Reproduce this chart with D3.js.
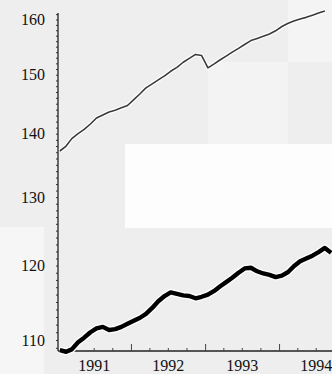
<!DOCTYPE html>
<html><head><meta charset="utf-8">
<script src="https://cdn.jsdelivr.net/npm/d3@7"></script>
<style>html,body{margin:0;padding:0;background:#eeeeee;overflow:hidden}</style>
</head><body>
<svg id="c" width="332" height="374"></svg>
<script>
// monthly values, starting January 1991
const startYear = 1991;
const thinSeries = [137.2,138.0,139.2,140.0,140.7,141.6,142.6,143.1,143.6,143.9,144.3,144.7,
  145.7,146.7,147.7,148.4,149.1,149.8,150.6,151.3,152.2,152.9,153.6,153.4,
  151.2,151.9,152.6,153.3,154.0,154.7,155.4,156.1,156.5,156.9,157.3,157.9,
  158.7,159.3,159.7,160.1,160.4,160.8,161.2,161.6];
const thickSeries = [108.7,108.5,108.8,109.7,110.3,111.0,111.5,111.7,111.3,111.4,111.7,112.1,
  112.5,112.9,113.4,114.2,115.1,115.8,116.3,116.1,115.9,115.8,115.5,115.7,
  116.0,116.5,117.1,117.7,118.3,119.0,119.6,119.7,119.2,118.9,118.7,118.4,
  118.6,119.1,119.9,120.6,121.0,121.4,121.9,122.5,121.8];
const yTickLabels = [110,120,130,140,150,160];
const xYearLabels = [1991,1992,1993,1994];

const svg = d3.select("#c");
// background blocks
const bg = [[0,0,332,374,"#eeeeee"],[288,0,44,62,"#f4f4f4"],[208,62,80,82,"#f3f3f3"],
  [125,144,207,84,"#fdfdfd"],[0,227,44,147,"#f6f6f6"]];
svg.selectAll("rect.bg").data(bg).join("rect").attr("class","bg")
  .attr("x",d=>d[0]).attr("y",d=>d[1]).attr("width",d=>d[2]).attr("height",d=>d[3]).attr("fill",d=>d[4]);

const x = d3.scaleTime().domain([new Date(1991,0,1), new Date(1995,0,1)]).range([57, 353]);
const y = d3.scaleLog().domain([110,160]).range([340,19.5]);

const axisY0 = 351, axisYTop = 13, axisX0 = 58;

// y axis line
svg.append("line").attr("x1",axisX0).attr("x2",axisX0).attr("y1",axisYTop).attr("y2",axisY0)
  .attr("stroke","#222").attr("stroke-width",1.3);
// minor y ticks every unit
const minor = d3.range(109,162);
const gy = svg.append("g").attr("transform",`translate(${axisX0},0)`)
  .call(d3.axisLeft(y).tickValues(minor).tickSize(2).tickFormat(""));
gy.select(".domain").remove();
gy.selectAll("line").attr("stroke","#333");
const gyl = svg.append("g").attr("transform",`translate(${axisX0},0)`)
  .call(d3.axisLeft(y).tickValues(yTickLabels).tickSize(0).tickPadding(13).tickFormat(d3.format("d")));
gyl.select(".domain").remove();
gyl.selectAll("text").attr("font-family","Liberation Serif, serif").attr("font-size",16).attr("fill","#111");

// x axis
svg.append("line").attr("x1",axisX0).attr("x2",332).attr("y1",axisY0).attr("y2",axisY0)
  .attr("stroke","#222").attr("stroke-width",1.3);
const quarters = d3.timeMonth.every(3).range(new Date(1991,0,1), new Date(1995,1,1));
const gxq = svg.append("g").attr("transform",`translate(0,${axisY0})`)
  .call(d3.axisBottom(x).tickValues(quarters.filter(d=>d.getMonth()!==0)).tickSize(-3).tickFormat(""));
gxq.select(".domain").remove();
gxq.selectAll("line").attr("stroke","#444");
const years = xYearLabels.map(yv=>new Date(yv+1,0,1));
const gxy = svg.append("g").attr("transform",`translate(0,${axisY0})`)
  .call(d3.axisBottom(x).tickValues(years).tickSize(-7).tickFormat(""));
gxy.select(".domain").remove();
gxy.selectAll("line").attr("stroke","#444");
const gxl = svg.append("g").attr("transform",`translate(0,${axisY0})`)
  .call(d3.axisBottom(x).tickValues(xYearLabels.map(yv=>new Date(yv,6,1))).tickSize(0).tickPadding(9)
    .tickFormat(d=>d.getFullYear()));
gxl.select(".domain").remove();
gxl.selectAll("text").attr("font-family","Liberation Serif, serif").attr("font-size",16).attr("fill","#111");

const toPts = arr => arr.map((v,i)=>({date:new Date(startYear, i, 15), v}));
const line = d3.line().x(d=>x(d.date)).y(d=>y(d.v));

// thin line with halo
svg.append("path").datum(toPts(thinSeries)).attr("d",line).attr("fill","none")
  .attr("stroke","#fff").attr("stroke-width",4).attr("stroke-linejoin","round");
svg.append("path").datum(toPts(thinSeries)).attr("d",line).attr("fill","none")
  .attr("stroke","#3a3a3a").attr("stroke-width",1.6).attr("stroke-linejoin","round");
// thick line with halo
svg.append("path").datum(toPts(thickSeries)).attr("d",line).attr("fill","none")
  .attr("stroke","#fff").attr("stroke-width",7).attr("stroke-linejoin","round");
svg.append("path").datum(toPts(thickSeries)).attr("d",line).attr("fill","none")
  .attr("stroke","#000").attr("stroke-width",4.4).attr("stroke-linejoin","round");
</script>
</body></html>
